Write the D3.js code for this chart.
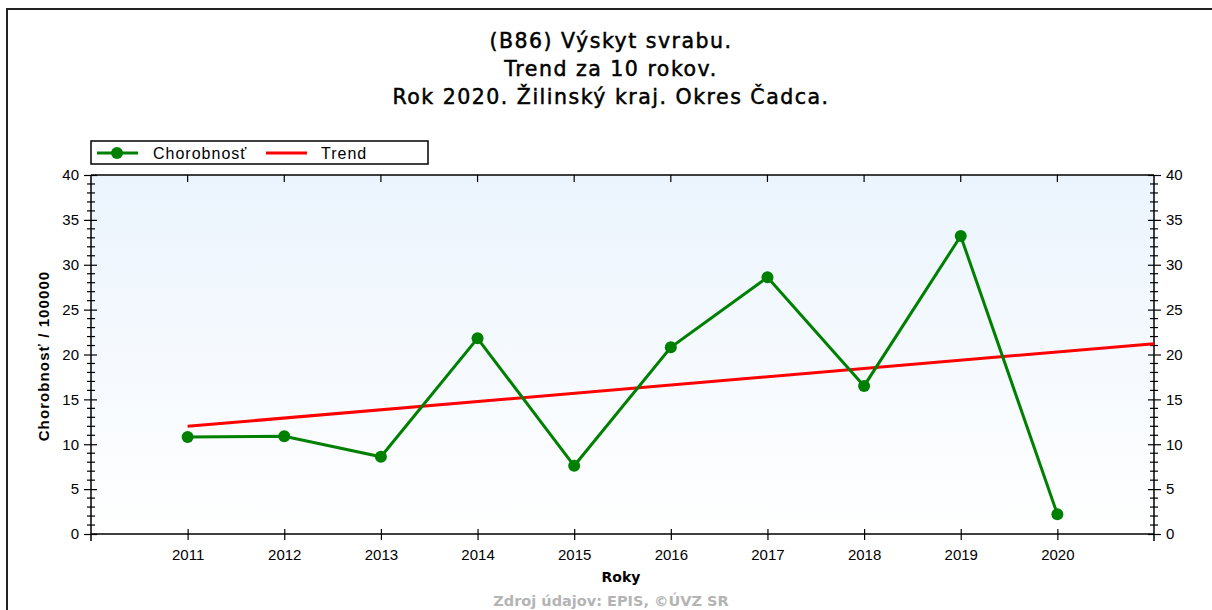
<!DOCTYPE html>
<html><head><meta charset="utf-8">
<script src="https://cdn.jsdelivr.net/npm/d3@7"></script>
<style>body{margin:0;background:#fff;}svg{display:block;}</style>
</head><body>
<svg id="c" width="1212" height="610"></svg>
<script>
const years = [2011,2012,2013,2014,2015,2016,2017,2018,2019,2020];
const morbidity = [10.8,10.9,8.6,21.8,7.6,20.8,28.6,16.5,33.2,2.2];
const trendYears = [2011,2021];
const trendValues = [12.0,21.2];
const yTicks = [0,5,10,15,20,25,30,35,40];
const titleLines = ["(B86) Výskyt svrabu.","Trend za 10 rokov.","Rok 2020. Žilinský kraj. Okres Čadca."];
const seriesNames = ["Chorobnosť","Trend"];

const svg = d3.select("#c");
const W=1212,H=610;
const L=91,R=1154,T=175,B=534;
const font="'DejaVu Sans', Verdana, sans-serif";
const afont="'Liberation Sans', Arial, sans-serif";

const x = d3.scaleLinear().domain([2010,2021]).range([L,R]);
const y = d3.scaleLinear().domain([0,40]).range([B,T]);

// frame
svg.append("rect").attr("x",7).attr("y",9).attr("width",W+20).attr("height",H+20)
  .attr("fill","none").attr("stroke","#222").attr("stroke-width",2);

// gradient
const defs=svg.append("defs");
const g=defs.append("linearGradient").attr("id","bg").attr("x1",0).attr("x2",0).attr("y1",0).attr("y2",1);
g.append("stop").attr("offset","0%").attr("stop-color","#ebf4fd");
g.append("stop").attr("offset","100%").attr("stop-color","#ffffff");
svg.append("rect").attr("x",L).attr("y",T).attr("width",R-L).attr("height",B-T).attr("fill","url(#bg)");

// title
svg.append("text").attr("x",611).attr("y",48).attr("text-anchor","middle")
  .attr("font-family",font).attr("font-size",20.5).attr("fill","#000")
  .attr("stroke","#000").attr("stroke-width",0.5).attr("letter-spacing",1.5)
  .selectAll("tspan").data(titleLines).join("tspan")
  .attr("x",611).attr("dy",(d,i)=>i===0?0:28).text(d=>d);

// top border
svg.append("line").attr("x1",L).attr("x2",R).attr("y1",T).attr("y2",T).attr("stroke","#000").attr("stroke-width",1.5);

// axes
const minor = d3.range(0,41,1);
function yAxis(side){
  const ax = side==="left"? d3.axisLeft(y) : d3.axisRight(y);
  ax.tickValues(yTicks).tickSize(7).tickPadding(5).tickFormat(d3.format("d"));
  const gA = svg.append("g").attr("transform",`translate(${side==="left"?L:R},0)`).call(ax);
  gA.select(".domain").remove();
  gA.append("line").attr("x1",0).attr("x2",0).attr("y1",T).attr("y2",B+7).attr("stroke","#000").attr("stroke-width",1.5);
  gA.selectAll(".tick line").attr("x1",side==="left"?6:-6).attr("stroke","#000").attr("stroke-width",1.2);
  gA.selectAll(".tick text").attr("font-family",afont).attr("font-size",15).attr("fill","#000");
  gA.selectAll(".minor").data(minor.filter(v=>v%5!==0)).join("line").attr("class","minor")
    .attr("x1",-4).attr("x2",4).attr("y1",d=>y(d)).attr("y2",d=>y(d)).attr("stroke","#000").attr("stroke-width",1.2);
}
yAxis("left"); yAxis("right");

const xAx = d3.axisBottom(x).tickValues(years).tickSize(6).tickPadding(9).tickFormat(d3.format("d"));
const gx = svg.append("g").attr("transform",`translate(0,${B})`).call(xAx);
gx.select(".domain").remove();
gx.append("line").attr("x1",L).attr("x2",R).attr("y1",0).attr("y2",0).attr("stroke","#000").attr("stroke-width",1.5);
gx.selectAll(".tick line").attr("y1",-5).attr("stroke","#000").attr("stroke-width",1.2);
gx.selectAll(".tick text").attr("font-family",afont).attr("font-size",15).attr("fill","#000");
// top ticks
svg.selectAll(".ttick").data(years).join("line").attr("class","ttick")
  .attr("x1",d=>x(d)).attr("x2",d=>x(d)).attr("y1",T).attr("y2",T+7).attr("stroke","#000").attr("stroke-width",1.2);

// axis titles
svg.append("text").attr("x",621).attr("y",582).attr("text-anchor","middle").attr("font-family",font)
  .attr("font-size",14).attr("font-weight","bold").text("Roky");
svg.append("text").attr("transform",`translate(49,356) rotate(-90)`).attr("text-anchor","middle").attr("font-family",afont)
  .attr("font-size",15).attr("font-weight","bold").attr("letter-spacing",1.1).text("Chorobnosť / 100000");
svg.append("text").attr("x",611).attr("y",606).attr("text-anchor","middle").attr("font-family",font)
  .attr("font-size",14.5).attr("font-weight","bold").attr("fill","#b4b4b4").text("Zdroj údajov: EPIS, ©ÚVZ SR");

// trend
const line = d3.line().x(d=>x(d[0])).y(d=>y(d[1]));
svg.append("path").datum(trendYears.map((d,i)=>[d,trendValues[i]])).attr("d",line)
  .attr("fill","none").attr("stroke","#ff0000").attr("stroke-width",3);
// series
svg.append("path").datum(years.map((d,i)=>[d,morbidity[i]])).attr("d",line)
  .attr("fill","none").attr("stroke","#008000").attr("stroke-width",3);
svg.selectAll(".dot").data(years).join("circle").attr("class","dot")
  .attr("cx",d=>x(d)).attr("cy",(d,i)=>y(morbidity[i])).attr("r",6).attr("fill","#008000");

// legend
const lg = svg.append("g");
lg.append("rect").attr("x",L).attr("y",141).attr("width",337).attr("height",23).attr("fill","#fff").attr("stroke","#000").attr("stroke-width",1.5);
lg.append("line").attr("x1",97).attr("x2",138).attr("y1",153).attr("y2",153).attr("stroke","#008000").attr("stroke-width",3);
lg.append("circle").attr("cx",117).attr("cy",153).attr("r",6).attr("fill","#008000");
lg.append("text").attr("x",153).attr("y",159).attr("font-family",afont).attr("font-size",16).attr("letter-spacing",1).text(seriesNames[0]);
lg.append("line").attr("x1",266).attr("x2",307).attr("y1",153).attr("y2",153).attr("stroke","#ff0000").attr("stroke-width",3);
lg.append("text").attr("x",321).attr("y",159).attr("font-family",afont).attr("font-size",16).attr("letter-spacing",1).text(seriesNames[1]);
</script>
</body></html>
